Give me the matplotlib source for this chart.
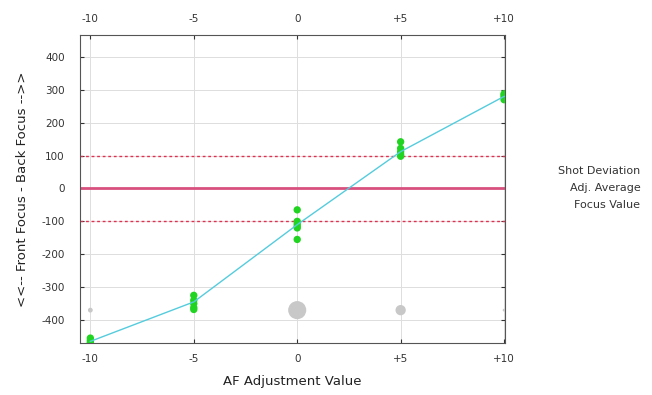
import matplotlib
matplotlib.use("Agg")
import matplotlib.pyplot as plt

plt.rcParams["axes.unicode_minus"] = False

# AF adjustment steps
adj_values = [-10, -5, 0, 5, 10]
tick_labels = ["-10", "-5", "0", "+5", "+10"]

# individual shot focus values per adjustment step
shot_x = [-10, -10, -10, -10,
          -5, -5, -5, -5, -5,
          0, 0, 0, 0, 0, 0,
          5, 5, 5, 5, 5,
          10, 10, 10, 10]
shot_y = [-455, -462, -468, -472,
          -325, -340, -350, -362, -368,
          -65, -100, -108, -115, -120, -155,
          142, 122, 112, 104, 98,
          270, 278, 284, 288]

# average focus value per step
avg_y = [-465, -345, -110, 112, 280]

# shot deviation (drawn as grey circle size)
dev_size = [12, 0, 170, 55, 4]
dev_level = -370

fig = plt.figure(figsize=(6.52, 3.95), dpi=100)
ax = fig.add_axes([0.1227, 0.1316, 0.652, 0.78])

ax.set_xlim(-10.5, 10.05)
ax.set_ylim(-470, 467)

ax.grid(True, color="#dddddd", linewidth=0.7)
ax.set_axisbelow(True)

ax.axhline(0, color="#d8507e", linewidth=2, zorder=2)
ax.axhline(100, color="#e03050", linewidth=1, linestyle=(0, (2, 2)), zorder=2)
ax.axhline(-100, color="#e03050", linewidth=1, linestyle=(0, (2, 2)), zorder=2)

ax.scatter(adj_values, [dev_level] * len(adj_values), s=dev_size,
           color="#c8c8c8", edgecolors="none", zorder=3)
ax.scatter(shot_x, shot_y, s=28, color="#22d422", edgecolors="none", zorder=4)
ax.plot(adj_values, avg_y, color="#55ccdd", linewidth=1, zorder=5)

ax.set_xticks(adj_values)
ax.set_xticklabels(tick_labels)
ax.set_yticks(range(-400, 401, 100))
ax.tick_params(axis="both", labelsize=7.5, colors="#333333", length=3,
               direction="in", top=True, right=True, labeltop=True)
ax.tick_params(axis="x", pad=8)
ax.tick_params(axis="y", pad=11)
for sp in ax.spines.values():
    sp.set_color("#555555")
    sp.set_linewidth(0.8)

ax.set_xlabel("AF Adjustment Value", fontsize=9.5, color="#222222", labelpad=8)
ax.set_ylabel("<<-- Front Focus - Back Focus -->>", fontsize=9.5,
              color="#222222", labelpad=9)

for i, txt in enumerate(["Shot Deviation", "Adj. Average", "Focus Value"]):
    fig.text(0.982, 1 - (171 + 17 * i) / 395, txt, ha="right", va="center",
             fontsize=8, color="#333333")

fig.savefig("out.png", dpi=100)
